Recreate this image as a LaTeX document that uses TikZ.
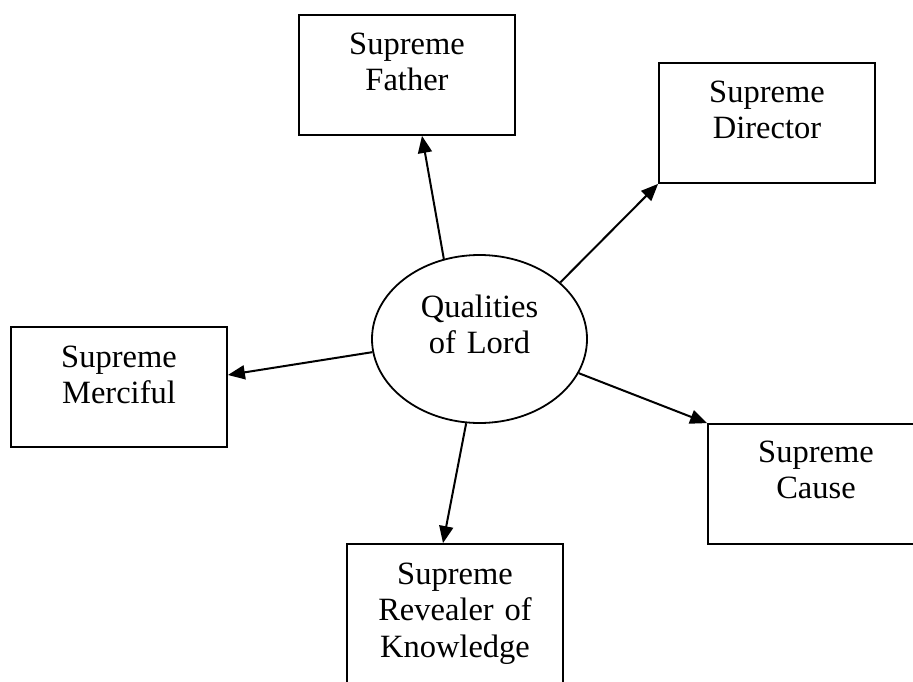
\documentclass[tikz,border=0pt]{standalone}
\usepackage{fontspec}
\setmainfont{Liberation Serif}
\usetikzlibrary{arrows.meta,shapes.geometric,calc}
\begin{document}
\begin{tikzpicture}[x=1pt,y=1pt,
  box/.style={draw,line width=1.8pt,minimum width=216pt,minimum height=120pt,inner sep=0pt},
  hub/.style={draw,ellipse,line width=1.8pt,minimum width=215pt,minimum height=168pt,inner sep=0pt},
  txt/.style={anchor=base,inner sep=0pt,text width=210pt,align=center,
    font=\fontsize{32.5}{36.5}\selectfont},
  link/.style={line width=2pt,-{Triangle[length=17pt,width=14pt]}}]
\useasboundingbox (0,0) rectangle (913,-682);
\clip (0,0) rectangle (913,-682);

% central ellipse
\node[hub] (lord) at (479.5,-339) {};
\node[txt] (lordT) at (479.5,-317) {Qualities\\of Lord};

% surrounding boxes
\node[box] (father) at (407,-75) {};
\node[box] (director) at (767,-123) {};
\node[box] (merciful) at (119,-387) {};
\node[box] (cause) at (816,-484) {};
\node[box,minimum height=160pt] (revealer) at (455,-624) {};

\node[txt] (fatherT) at ($(father.north)+(0,-40)$) {Supreme\\Father};
\node[txt] (directorT) at ($(director.north)+(0,-40)$) {Supreme\\Director};
\node[txt] (mercifulT) at ($(merciful.north)+(0,-41)$) {Supreme\\Merciful};
\node[txt] (causeT) at ($(cause.north)+(0,-39)$) {Supreme\\Cause};
\node[txt] (revealerT) at ($(revealer.north)+(0,-41)$) {Supreme\\Revealer of\\Knowledge};

% arrows from the centre
\draw[link] (lord.114) -- ($(father.south)+(15,0)$);
\draw[link] (lord.35) -- (director.south west);
\draw[link] (lord.187) -- ($(merciful.east)+(0,12)$);
\draw[link] (lord.-19) -- (cause.north west);
\draw[link] (lord.261.5) -- ($(revealer.north)+(-12,0)$);
\end{tikzpicture}
\end{document}
